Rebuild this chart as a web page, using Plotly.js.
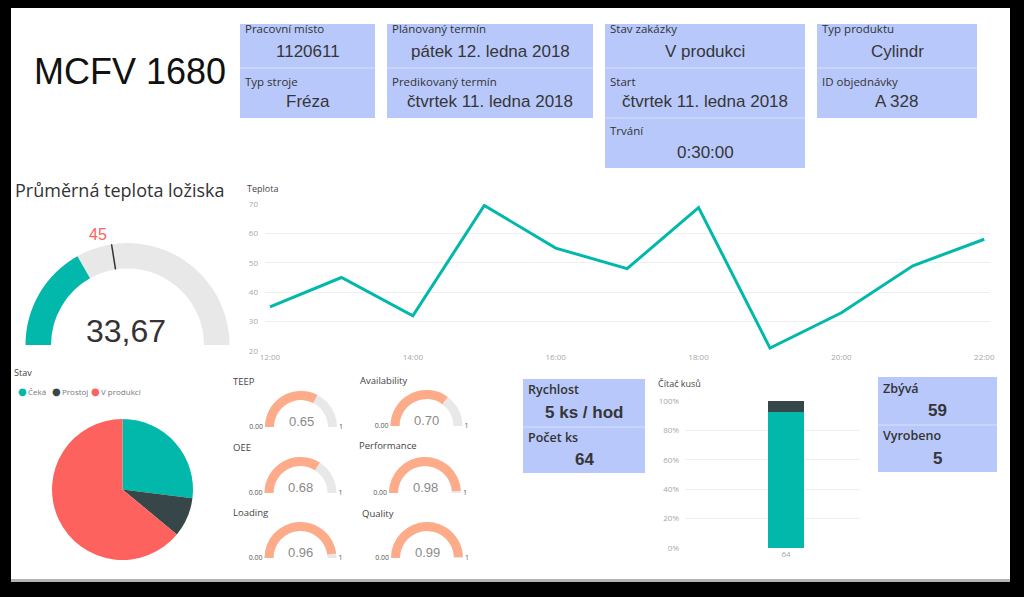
<!DOCTYPE html>
<html><head><meta charset="utf-8">
<script src="https://cdn.plot.ly/plotly-3.0.1.min.js"></script>
<style>html,body{margin:0;padding:0;background:#000;overflow:hidden}#chart{width:1024px;height:597px}</style>
</head><body><div id="chart"></div>
<script>
// ---------------- data ----------------
const machineName = 'MCFV 1680';
const card1Labels = ['Pracovní místo', 'Typ stroje'];
const card1Values = ['1120611', 'Fréza'];
const card2Labels = ['Plánovaný termín', 'Predikovaný termín'];
const card2Values = ['pátek 12. ledna 2018', 'čtvrtek 11. ledna 2018'];
const card3Labels = ['Stav zakázky', 'Start', 'Trvání'];
const card3Values = ['V produkci', 'čtvrtek 11. ledna 2018', '0:30:00'];
const card4Labels = ['Typ produktu', 'ID objednávky'];
const card4Values = ['Cylindr', 'A 328'];

const gaugeTitle = 'Průměrná teplota ložiska';
const avgTemp = 33.67;
const tempTarget = 45;
const tempRange = [0, 100];

const lineTitle = 'Teplota';
const hours = ['12:00','13:00','14:00','15:00','16:00','17:00','18:00','19:00','20:00','21:00','22:00'];
const temps = [35, 45, 32, 69.5, 55, 48, 68.8, 21, 33, 49, 58];
const hourTicks = ['12:00','14:00','16:00','18:00','20:00','22:00'];
const tempTicks = [20, 30, 40, 50, 60, 70];

const pieTitle = 'Stav';
const statusLabels = ['Čeká', 'Prostoj', 'V produkci'];
const statusValues = [27, 9, 64];

const kpiNames = ['TEEP', 'Availability', 'OEE', 'Performance', 'Loading', 'Quality'];
const kpiValues = [0.65, 0.70, 0.68, 0.98, 0.96, 0.99];
const kpiRange = [0, 1];
const kpiTickText = ['0.00', '1'];

const speedLabels = ['Rychlost', 'Počet ks'];
const speedValues = ['5 ks / hod', '64'];
const counterTitle = 'Čítač kusů';
const counterCategory = ['64'];
const counterSeries = ['Zbývá', 'Vyrobeno'];
const counterValues = [59, 5];
const pctTicks = [0, 20, 40, 60, 80, 100];
const pctTickText = ['0%', '20%', '40%', '60%', '80%', '100%'];

// ---------------- styling ----------------
const W = 1024, H = 597;
const X = p => p / W;
const Y = p => 1 - p / H;
const TEAL = '#01B8AA', DARK = '#374649', RED = '#FD625E', ORANGE = '#FDAB89';
const CARD = '#B8C8FA', GAUGEBG = '#E8E8E8';
const F_DIN = 'Liberation Sans, Arial, sans-serif';
const F_VAL = 'Liberation Sans, Arial, sans-serif';
const F_UI = 'Open Sans, Noto Sans, sans-serif';

const shapes = [];
const annotations = [];

function rect(x0, y0, x1, y1, fill) {
  shapes.push({type:'rect', xref:'paper', yref:'paper', x0:X(x0), x1:X(x1), y0:Y(y1), y1:Y(y0),
    fillcolor:fill, line:{width:0}, layer:'below'});
}
function hline(x0, x1, y, color) {
  shapes.push({type:'line', xref:'paper', yref:'paper', x0:X(x0), x1:X(x1), y0:Y(y), y1:Y(y),
    line:{color:color, width:1}, layer:'below'});
}
function text(t, x, y, opts) {
  opts = opts || {};
  annotations.push({xref:'paper', yref:'paper', x:X(x), y:Y(y), text:t, showarrow:false,
    xanchor:opts.anchor || 'left', yanchor:'middle',
    font:{family:opts.family || F_UI, size:opts.size || 11, color:opts.color || '#333', weight:opts.weight || 400}});
}

// panel
rect(11, 8, 1010, 581, '#ffffff');
rect(11, 579, 1010, 582, '#b4b4b4');

// title
text(machineName, 32, 72, {family:F_DIN, size:36, color:'#111'});

// cards
function card(x0, x1, bounds, labels, values, labelY, valueY, lopt, vopt) {
  rect(x0, bounds[0], x1, bounds[bounds.length - 1], CARD);
  for (let i = 1; i < bounds.length - 1; i++) hline(x0, x1, bounds[i], 'rgba(255,255,255,0.45)');
  labels.forEach((l, i) => {
    text(l, x0 + 3, labelY[i], lopt);
    text(values[i], (x0 + x1) / 2, valueY[i], Object.assign({anchor:'center'}, vopt));
  });
}
const topL = {size:11.5, color:'#333'};
const topV = {family:F_VAL, size:17, color:'#363636'};
card(240, 375, [24, 68, 118], card1Labels, card1Values, [28, 81], [52, 102], topL, topV);
card(387, 593, [24, 68, 118], card2Labels, card2Values, [28, 81], [52, 102], topL, topV);
card(605, 805, [24, 68, 118, 168], card3Labels, card3Values, [28, 81, 130], [52, 102, 152], topL, topV);
card(817, 977, [24, 68, 118], card4Labels, card4Values, [28, 81], [52, 102], topL, topV);

const botL = {size:12.5, color:'#333', weight:600};
const botV = {family:F_VAL, size:17, color:'#363636', weight:600};
card(523, 645, [379, 427, 473], speedLabels, speedValues, [389, 437], [412, 459], botL, botV);
card(878, 997, [377, 425, 472], counterSeries, counterValues.map(String), [388, 435], [410, 458], botL, botV);

// gauge title, value and target label
text(gaugeTitle, 13, 190, {size:18, color:'#333'});
text(String(tempTarget), 98, 235, {family:F_DIN, size:16, color:RED, anchor:'center'});
text(avgTemp.toFixed(2).replace('.', ','), 126, 331, {family:F_DIN, size:32, color:'#333', anchor:'center'});

// chart titles
text(lineTitle, 245, 189, {size:9, color:'#444'});
text(counterTitle, 656, 383, {size:9, color:'#444'});
// pie legend
text(pieTitle, 12, 372, {size:9, color:'#444'});
const legendX = [22, 56, 95];
const pieColors = [TEAL, DARK, RED];
statusLabels.forEach((l, i) => {
  text('●', legendX[i], 391, {family:'DejaVu Sans', size:10, color:pieColors[i], anchor:'center'});
  text(l, legendX[i] + 4, 391, {size:8, color:'#777'});
});

// small KPI gauges
const kpiCenters = [[301, 427], [426.5, 426], [300.5, 493], [425, 493], [300.5, 558], [427, 558]];
const kpiTitlePos = [[231, 381], [358, 380], [231, 447], [357, 445], [231, 512], [360, 513]];
const kpiR = 36;

const traces = [];

// main gauge
traces.push({
  type:'indicator', mode:'gauge', value:avgTemp,
  domain:{x:[X(25.5), X(229.5)], y:[Y(345), Y(243)]},
  gauge:{shape:'angular', axis:{range:tempRange, visible:false},
    bar:{color:TEAL, thickness:1}, bgcolor:GAUGEBG, borderwidth:0,
    threshold:{line:{color:'#333', width:1.5}, thickness:1, value:tempTarget}}
});

kpiNames.forEach((n, i) => {
  const [cx, cy] = kpiCenters[i];
  traces.push({
    type:'indicator', mode:'gauge', value:kpiValues[i],
    domain:{x:[X(cx - kpiR), X(cx + kpiR)], y:[Y(cy), Y(cy - kpiR)]},
    gauge:{shape:'angular',
      axis:{range:kpiRange, tickvals:kpiRange, ticktext:kpiTickText, ticks:'',
        tickfont:{family:F_UI, size:7, color:'#555'}},
      bar:{color:ORANGE, thickness:1}, bgcolor:GAUGEBG, borderwidth:0}
  });
  text(kpiValues[i].toFixed(2), cx, cy - 6, {family:F_DIN, size:13, color:'#8a8a8a', anchor:'center'});
  text(n, kpiTitlePos[i][0], kpiTitlePos[i][1], {size:9.5, color:'#444'});
});

// line chart
traces.push({type:'scatter', mode:'lines', x:hours, y:temps, xaxis:'x', yaxis:'y',
  line:{color:TEAL, width:3}, hoverinfo:'skip'});

// pie
traces.push({type:'pie', labels:statusLabels, values:statusValues, sort:false,
  direction:'clockwise', rotation:0, textinfo:'none', hoverinfo:'skip',
  marker:{colors:pieColors, line:{width:0}},
  domain:{x:[X(52), X(193)], y:[Y(560), Y(419)]}});

// stacked 100% bar
const barColors = [TEAL, DARK];
counterSeries.forEach((s, i) => {
  traces.push({type:'bar', name:s, x:counterCategory, y:[counterValues[i]], xaxis:'x2', yaxis:'y2',
    marker:{color:barColors[i], line:{width:0}}, width:0.206, hoverinfo:'skip'});
});

const tickFont = {family:F_UI, size:8, color:'#a8a8a8'};
const layout = {
  width:W, height:H, margin:{l:0, r:0, t:0, b:0, pad:0},
  paper_bgcolor:'#000', plot_bgcolor:'rgba(0,0,0,0)',
  showlegend:false,
  barmode:'stack', barnorm:'percent',
  xaxis:{domain:[X(265), X(990)], type:'category', range:[-0.07, 10.08],
    tickvals:hourTicks, ticktext:hourTicks, showgrid:false, zeroline:false, showline:false,
    ticks:'', tickfont:tickFont},
  yaxis:{domain:[Y(351), Y(204)], range:[20, 70], tickvals:tempTicks, gridcolor:'#efefef',
    zeroline:false, showline:false, ticks:'', tickfont:tickFont, ticklabelstandoff:6},
  xaxis2:{domain:[X(685), X(860)], anchor:'y2', type:'category', range:[-0.577, 0.423],
    showgrid:false, zeroline:false, showline:false, ticks:'', tickfont:tickFont},
  yaxis2:{domain:[Y(548), Y(401)], anchor:'x2', range:[0, 100], tickvals:pctTicks, ticktext:pctTickText,
    gridcolor:'#efefef', zeroline:false, showline:false, ticks:'', tickfont:tickFont, ticklabelstandoff:5},
  shapes:shapes, annotations:annotations
};

Plotly.newPlot('chart', traces, layout, {staticPlot:true, displayModeBar:false});
</script></body></html>
